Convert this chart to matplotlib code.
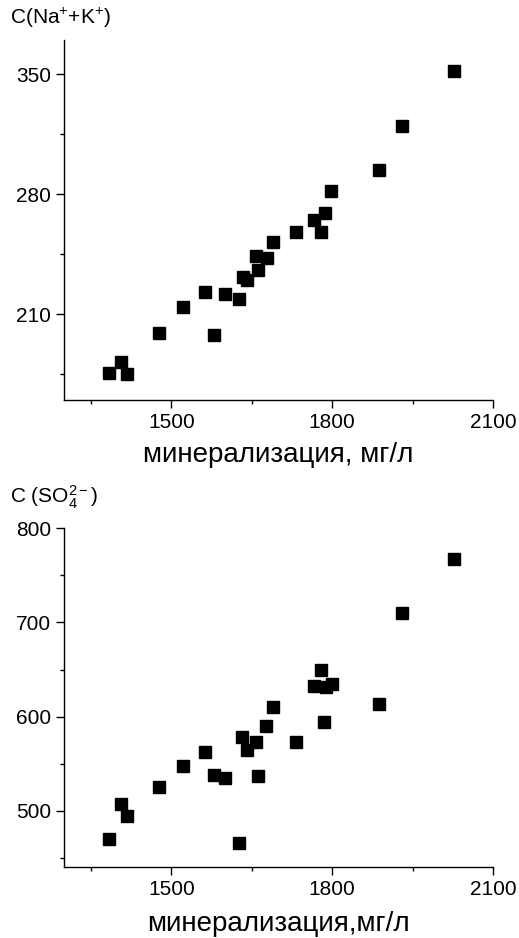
import matplotlib
matplotlib.use("Agg")
import matplotlib.pyplot as plt
from matplotlib.ticker import MultipleLocator

plt.rcParams['font.family'] = ['Liberation Sans', 'DejaVu Sans']
plt.rcParams['mathtext.fontset'] = 'custom'
plt.rcParams['mathtext.rm'] = 'Liberation Sans'
plt.rcParams['mathtext.it'] = 'Liberation Sans:italic'

# --- data ---
# top panel: C(Na+ + K+) vs mineralization
min_na = [2027, 1930, 1887, 1797, 1786, 1766, 1780, 1732, 1690, 1658, 1678,
          1662, 1633, 1642, 1562, 1601, 1626, 1521, 1478, 1580, 1407, 1383, 1417]
na_k = [352, 320, 294, 282, 269, 265, 258, 258, 252, 244, 243,
        236, 232, 230, 223, 222, 219, 214, 199, 198, 182, 176, 175]

# bottom panel: C(SO4 2-) vs mineralization
min_so4 = [2027, 1930, 1780, 1766, 1788, 1799, 1888, 1690, 1784, 1677, 1632, 1732,
           1658, 1642, 1562, 1521, 1580, 1601, 1662, 1478, 1407, 1417, 1383, 1627]
so4 = [767, 710, 650, 632, 631, 635, 613, 610, 594, 590, 578, 573,
       573, 565, 562, 548, 538, 535, 537, 525, 507, 494, 470, 466]

x_ticks = [1500, 1800, 2100]

fig = plt.figure(figsize=(5.19, 9.38), dpi=100)
ax1 = fig.add_axes([0.1233, 0.5736, 0.8267, 0.3838])
ax2 = fig.add_axes([0.1233, 0.0754, 0.8267, 0.3614])


def style_axis(ax, ylim, ymajor, yticks_step_minor):
    for side in ('top', 'right'):
        ax.spines[side].set_visible(False)
    for side in ('left', 'bottom'):
        ax.spines[side].set_linewidth(1.0)
    ax.set_xlim(1300, 2100)
    ax.set_ylim(*ylim)
    ax.set_xticks(x_ticks)
    ax.xaxis.set_minor_locator(MultipleLocator(150))
    ax.set_yticks(ymajor)
    ax.yaxis.set_minor_locator(MultipleLocator(yticks_step_minor))
    ax.tick_params(which='major', direction='out', length=5.5, width=1,
                   labelsize=15, pad=4)
    ax.tick_params(which='minor', direction='out', length=3, width=1)


ax1.plot(min_na, na_k, 's', color='black', markersize=9.3, clip_on=False)
style_axis(ax1, (160, 370), [210, 280, 350], 35)
ax1.set_xlabel('минерализация, мг/л', fontsize=20, labelpad=7)

ax2.plot(min_so4, so4, 's', color='black', markersize=9.3, clip_on=False)
style_axis(ax2, (440, 800), [500, 600, 700, 800], 50)
ax2.set_xlabel('минерализация,мг/л', fontsize=20, labelpad=8)

fig.text(0.02, 0.981, r'C(Na$^{+}$+K$^{+}$)', fontsize=15, va='center', ha='left')
fig.text(0.02, 0.470, r'C (SO$_4^{2-}$)', fontsize=15, va='center', ha='left')

fig.savefig('out.png', dpi=100)
